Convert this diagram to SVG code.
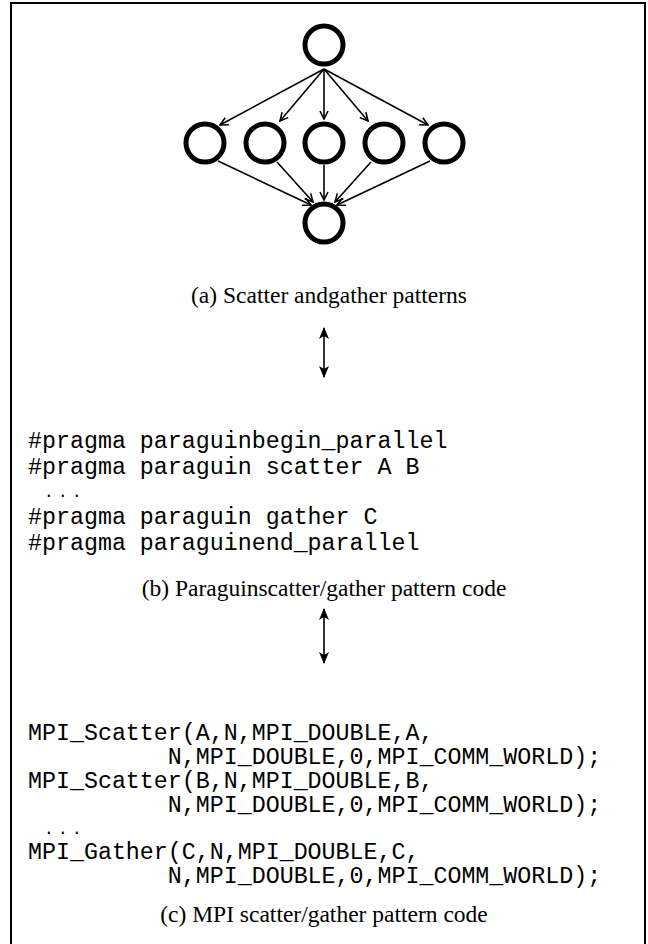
<svg xmlns="http://www.w3.org/2000/svg" width="648" height="944" viewBox="0 0 648 944">
<defs>
<marker id="ah" viewBox="0 0 10 10" refX="9" refY="5" markerWidth="10" markerHeight="10" markerUnits="userSpaceOnUse" orient="auto">
<path d="M1,1 L9,5 L1,9" fill="none" stroke="#000" stroke-width="1.6"/>
</marker>
<marker id="dh" viewBox="0 0 12 10" refX="11" refY="5" markerWidth="12" markerHeight="10" markerUnits="userSpaceOnUse" orient="auto-start-reverse">
<path d="M0,0 L12,5 L0,10 L3,5 Z" fill="#000"/>
</marker>
</defs>
<style>
.node{fill:#fff;stroke:#000;stroke-width:5}
.edge{stroke:#000;stroke-width:1.6;fill:none;marker-end:url(#ah)}
.dbl{stroke:#000;stroke-width:1.6;fill:none;marker-start:url(#dh);marker-end:url(#dh)}
.cap{font-family:"Liberation Serif","Times New Roman",serif;font-size:23.5px;fill:#000;text-anchor:middle}
.code{font-family:"Liberation Mono","Courier New",monospace;font-size:23.3px;fill:#000;white-space:pre}
.dots{font-family:"Liberation Mono","Courier New",monospace;font-size:16px;letter-spacing:4.4px;fill:#000}
</style>
<rect x="11" y="3" width="634" height="960" fill="#fff" stroke="#000" stroke-width="2"/>
<g id="connectors">
<line class="edge" x1="324" y1="69" x2="220" y2="125"/>
<line class="edge" x1="324" y1="69" x2="280" y2="121"/>
<line class="edge" x1="324" y1="69" x2="324" y2="119"/>
<line class="edge" x1="324" y1="69" x2="368" y2="121"/>
<line class="edge" x1="324" y1="69" x2="428" y2="125"/>
<line class="edge" x1="218" y1="161" x2="311" y2="205"/>
<line class="edge" x1="277" y1="162" x2="313" y2="202"/>
<line class="edge" x1="324" y1="165" x2="324" y2="200"/>
<line class="edge" x1="371" y1="162" x2="335" y2="202"/>
<line class="edge" x1="430" y1="161" x2="337" y2="205"/>
<line class="dbl" x1="324" y1="328" x2="324" y2="377"/>
<line class="dbl" x1="324" y1="609" x2="324" y2="663"/>
</g>
<g id="n0"><circle class="node" cx="324" cy="45" r="19"/></g>
<g id="n1"><circle class="node" cx="205" cy="143" r="19"/></g>
<g id="n2"><circle class="node" cx="265" cy="143" r="19"/></g>
<g id="n3"><circle class="node" cx="324" cy="143" r="19"/></g>
<g id="n4"><circle class="node" cx="384" cy="143" r="19"/></g>
<g id="n5"><circle class="node" cx="444" cy="143" r="19"/></g>
<g id="n6"><circle class="node" cx="324" cy="223" r="19"/></g>
<g id="cap-a"><text class="cap" x="329" y="303">(a) Scatter andgather patterns</text></g>
<g id="code-b">
<text class="code" x="28" y="448">#pragma paraguinbegin_parallel</text>
<text class="code" x="28" y="474">#pragma paraguin scatter A B</text>
<text class="dots" x="44" y="497">...</text>
<text class="code" x="28" y="524">#pragma paraguin gather C</text>
<text class="code" x="28" y="550">#pragma paraguinend_parallel</text>
</g>
<g id="cap-b"><text class="cap" x="324" y="596">(b) Paraguinscatter/gather pattern code</text></g>
<g id="code-c">
<text class="code" x="28" y="740">MPI_Scatter(A,N,MPI_DOUBLE,A,</text>
<text class="code" x="28" y="764">          N,MPI_DOUBLE,0,MPI_COMM_WORLD);</text>
<text class="code" x="28" y="788">MPI_Scatter(B,N,MPI_DOUBLE,B,</text>
<text class="code" x="28" y="812">          N,MPI_DOUBLE,0,MPI_COMM_WORLD);</text>
<text class="dots" x="44" y="834">...</text>
<text class="code" x="28" y="859">MPI_Gather(C,N,MPI_DOUBLE,C,</text>
<text class="code" x="28" y="883">          N,MPI_DOUBLE,0,MPI_COMM_WORLD);</text>
</g>
<g id="cap-c"><text class="cap" x="324" y="922">(c) MPI scatter/gather pattern code</text></g>
</svg>
